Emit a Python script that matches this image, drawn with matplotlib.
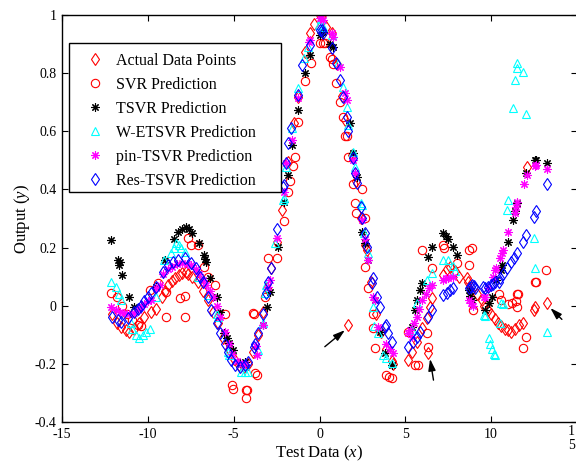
import matplotlib
matplotlib.use('Agg')
import matplotlib.pyplot as plt
from matplotlib.patches import Rectangle

plt.rcParams['font.family'] = 'serif'
plt.rcParams['font.serif'] = ['Liberation Serif', 'DejaVu Serif']
plt.rcParams['mathtext.fontset'] = 'custom'
plt.rcParams['mathtext.rm'] = 'Liberation Serif'
plt.rcParams['mathtext.it'] = 'Liberation Serif:italic'

# Actual test data (red diamonds)
act_x = [-12.1, -11.8, -11.56, -11.3, -11.07, -10.8, -10.5, -10.2, -9.8, -9.5, -9.2, -9.0, -8.8,
         -8.6, -8.4, -8.2, -8.0, -7.8, -7.66, -7.4, -7.1, -6.8, -6.5, -6.2, -5.9, -5.6, -5.3, -5.0,
         -4.7, -4.4, -4.15, -3.9, -3.6, -3.3, -3.05, -2.8, -2.5, -2.2, -1.83, -1.5, -1.28, -0.86,
         -0.57, -0.3, 0.05, 0.15, 0.4, 0.7, 1.0, 1.3, 1.5, 1.68, 1.9, 2.1, 2.4, 2.64, 2.74, 3.0,
         3.3, 3.6, 3.9, 4.2, 4.3, 5.18, 5.37, 5.66, 5.95, 6.25, 6.34, 6.45, 6.54, 7.22, 7.4, 7.6,
         7.87, 8.1, 8.58, 8.67, 8.8, 9.2, 9.46, 9.6, 9.8, 10.0, 10.2, 10.4, 10.6, 10.8, 11.0,
         11.15, 11.4, 11.6, 11.85, 12.08, 12.47, 12.57, 13.25]
act_y = [-0.03, -0.06, -0.072, -0.085, -0.089, -0.08, -0.06, -0.04, -0.02, -0.012, 0.03, 0.05, 0.07,
         0.085, 0.095, 0.105, 0.112, 0.115, 0.11, 0.1, 0.08, 0.05, 0.02, -0.02, -0.06, -0.11, -0.15,
         -0.185, -0.205, -0.21, -0.2, -0.16, -0.1, -0.02, 0.06, 0.13, 0.22, 0.33, 0.495, 0.63, 0.719,
         0.874, 0.937, 0.97, 1.0, 1.0, 0.96, 0.937, 0.83, 0.72, 0.64, -0.066, 0.52, 0.43, 0.3, 0.21,
         0.19, 0.08, -0.03, -0.09, -0.15, -0.19, -0.2, -0.187, -0.158, -0.124, -0.078, -0.043,
         -0.164, -0.006, 0.026, 0.106, 0.125, 0.134, 0.12, 0.1, 0.094, 0.08, 0.05, 0.04, 0.02, 0.0,
         -0.015, -0.03, -0.045, -0.06, -0.07, -0.08, -0.085, -0.09, -0.08, -0.065, -0.06, 0.478,
         -0.015, -0.003, 0.01]

# SVR prediction (red circles)
svr_x = [-12.14, -11.8, -11.5, -11.2, -10.9, -10.6, -10.4, -9.9, -9.42, -8.93, -8.93, -8.15, -7.86,
         -7.86, -7.66, -7.47, -7.08, -6.7, -6.5, -6.11, -5.5, -5.1, -5.05, -4.3, -4.2, -4.3, -3.87,
         -3.81, -3.75, -3.65, -3.2, -3.0, -2.45, -2.06, -1.83, -1.73, -1.53, -1.44, -1.24, -0.82,
         -0.47, 0.0, 0.2, 0.31, 0.6, 0.7, 0.8, 0.99, 1.19, 1.38, 1.5, 1.6, 1.68, 1.97, 2.06, 2.12,
         2.45, 2.64, 2.64, 2.8, 3.13, 3.13, 3.23, 3.9, 4.05, 4.2, 5.18, 5.56, 5.72, 5.95, 6.25, 6.3,
         6.54, 7.22, 7.25, 8.0, 8.68, 8.87, 8.68, 8.97, 10.45, 10.6, 11.0, 11.2, 11.45, 11.48, 11.5,
         11.57, 12.04, 11.85, 12.53, 12.63, 13.21]
svr_y = [0.043, 0.03, 0.0, -0.03, -0.05, -0.065, -0.07, 0.054, 0.077, 0.048, -0.038, 0.025, 0.033,
         -0.038, 0.232, 0.21, 0.21, 0.134, 0.1, 0.071, -0.03, -0.273, -0.285, -0.29, -0.29, -0.318,
         -0.026, -0.03, -0.23, -0.24, 0.031, 0.163, 0.163, 0.292, 0.392, 0.43, 0.48, 0.51, 0.633,
         0.774, 0.834, 0.903, 0.903, 0.903, 0.857, 0.85, 0.83, 0.765, 0.702, 0.65, 0.583, 0.583,
         0.513, 0.42, 0.352, 0.318, 0.4, 0.3, 0.134, 0.06, -0.03, -0.077, -0.147, -0.24, -0.245,
         -0.25, -0.09, -0.204, -0.204, 0.19, -0.095, -0.141, 0.129, 0.21, 0.2, 0.146, 0.19, 0.2,
         0.14, -0.015, 0.04, 0.02, 0.005, 0.01, 0.015, 0.04, -0.005, 0.04, -0.107, -0.147, 0.08,
         0.083, 0.123]

# TSVR prediction (black asterisks)
tsvr_x = [-12.14, -11.75, -11.7, -11.65, -11.5, -11.1, -10.8, -9.5, -9.0, -8.5, -8.25, -8.0, -7.8,
          -7.6, -7.4, -7.0, -6.75, -6.65, -6.6, -6.4, -6.0, -5.8, -5.55, -5.4, -5.25, -5.04,
          -4.65, -4.36, -3.29, -3.04, -2.9, -2.41, -2.06, -1.85, -1.6, -1.24, -0.82, -0.57, 0.0,
          0.2, 0.6, 0.8, 1.77, 1.97, 2.16, 2.45, 2.64, 2.84, 3.23, 3.52, 3.81, 4.2, 5.37, 5.56,
          5.66, 5.86, 5.95, 6.34, 6.54, 7.2, 7.35, 7.5, 7.8, 8.0, 8.68, 8.78, 8.87, 9.65, 9.85,
          10.05, 10.29, 10.58, 10.62, 11.0, 11.27, 11.4, 11.52, 12.04, 12.53, 12.63, 13.25]
tsvr_y = [0.226, 0.157, 0.14, 0.15, 0.105, 0.03, -0.003, 0.065, 0.157, 0.23, 0.255, 0.265, 0.27,
          0.265, 0.25, 0.215, 0.175, 0.16, 0.15, 0.095, 0.03, -0.02, -0.095, -0.11, -0.128,
          -0.152, -0.198, -0.193, -0.066, -0.003, 0.048, 0.203, 0.358, 0.45, 0.553, 0.673, 0.8,
          0.862, 0.93, 0.94, 0.9, 0.89, 0.627, 0.524, 0.444, 0.255, 0.215, 0.157, 0.02, -0.089,
          -0.164, -0.204, -0.072, -0.015, 0.02, 0.054, 0.077, 0.169, 0.203, 0.25, 0.24, 0.23,
          0.203, 0.174, 0.054, 0.035, 0.02, -0.015, 0.01, 0.03, 0.088, 0.123, 0.14, 0.22, 0.295,
          0.325, 0.353, 0.455, 0.5, 0.5, 0.49]

# W-ETSVR prediction (cyan triangles)
wet_x = [-12.14, -11.85, -11.7, -11.55, -11.0, -10.9, -10.7, -10.5, -10.3, -10.1, -9.9, -9.5,
         -9.03, -8.64, -8.5, -8.35, -8.2, -8.06, -7.86, -7.08, -6.5, -6.0, -5.9, -5.35, -5.25,
         -4.55, -4.35, -4.15, -3.58, -3.29, -3.19, -3.1, -2.6, -2.12, -2.06, -1.93, -1.63, -1.28,
         -0.9, -0.66, -0.04, 0.1, 0.2, 0.7, 1.09, 1.38, 1.58, 1.68, 1.97, 2.06, 2.41, 2.45, 2.6,
         2.84, 3.13, 3.2, 3.43, 3.72, 3.9, 4.2, 5.37, 5.66, 6.25, 6.54, 7.22, 7.5, 7.8, 7.9,
         9.6, 9.65, 9.9, 9.94, 10.05, 10.15, 10.2, 10.49, 10.6, 10.7, 10.9, 10.98, 11.27, 11.4,
         11.5, 11.52, 11.85, 12.04, 12.47, 12.57, 13.25]
wet_y = [0.083, 0.065, 0.04, 0.02, -0.06, -0.08, -0.1, -0.11, -0.1, -0.09, -0.08, 0.03, 0.157,
         0.18, 0.2, 0.215, 0.21, 0.2, 0.186, 0.1, 0.037, -0.03, -0.04, -0.16, -0.17, -0.227,
         -0.227, -0.227, -0.152, -0.06, 0.043, 0.07, 0.215, 0.364, 0.37, 0.478, 0.61, 0.748,
         0.851, 0.89, 0.966, 0.985, 0.96, 0.93, 0.834, 0.753, 0.685, 0.622, 0.53, 0.478, 0.352,
         0.346, 0.25, 0.18, -0.003, -0.07, -0.095, -0.17, -0.18, -0.198, -0.083, 0.01, 0.088,
         0.111, 0.157, 0.157, 0.136, 0.12, -0.032, -0.035, -0.11, -0.13, -0.15, -0.165, -0.17,
         -0.06, 0.008, 0.005, 0.33, 0.364, 0.681, 0.776, 0.834, 0.817, 0.805, 0.658, 0.232,
         0.129, -0.09]

# pin-TSVR prediction (magenta asterisks)
pin_x = [-12.14, -11.85, -11.6, -11.37, -11.1, -10.8, -10.6, -10.4, -10.2, -10.0, -9.8, -9.5,
         -9.3, -9.1, -8.8, -8.6, -8.3, -8.0, -7.7, -7.5, -7.2, -7.0, -6.8, -6.6, -6.4, -6.2,
         -6.0, -5.8, -5.5, -5.3, -5.1, -4.8, -4.5, -4.36, -3.7, -3.65, -3.29, -3.0, -2.9, -2.45,
         -2.06, -1.93, -1.63, -1.24, -0.62, -0.57, 0.0, 0.1, 0.2, 0.7, 0.8, 1.19, 1.48, 1.58,
         1.97, 2.06, 2.45, 2.64, 2.84, 3.13, 3.23, 3.43, 3.9, 4.1, 4.3, 5.18, 5.3, 5.37, 5.5,
         5.66, 5.8, 5.95, 6.2, 6.4, 6.54, 7.22, 7.35, 7.5, 7.8, 8.68, 8.8, 8.97, 9.6, 9.65, 9.8,
         10.1, 10.2, 10.3, 10.52, 10.62, 10.68, 10.98, 11.37, 11.45, 11.52, 11.9, 12.1, 12.57,
         12.63, 13.25]
pin_y = [-0.003, -0.015, -0.022, -0.026, -0.03, -0.025, -0.015, -0.005, 0.005, 0.015, 0.02, 0.06,
         0.07, 0.11, 0.125, 0.134, 0.142, 0.148, 0.145, 0.14, 0.125, 0.11, 0.09, 0.07, 0.05,
         0.03, 0.0, -0.04, -0.09, -0.13, -0.165, -0.19, -0.2, -0.2, -0.14, -0.17, -0.066, 0.065,
         0.088, 0.232, 0.392, 0.49, 0.57, 0.713, 0.908, 0.914, 0.99, 0.99, 0.983, 0.937, 0.925,
         0.822, 0.73, 0.708, 0.5, 0.455, 0.295, 0.23, 0.157, 0.03, 0.02, -0.072, -0.13, -0.15,
         -0.163, -0.095, -0.083, -0.106, -0.06, -0.038, -0.01, 0.02, 0.04, 0.06, 0.07, 0.088,
         0.095, 0.095, 0.1, 0.02, 0.01, 0.0, 0.03, 0.03, 0.06, 0.1, 0.123, 0.13, 0.164, 0.18,
         0.19, 0.255, 0.318, 0.34, 0.358, 0.419, 0.45, 0.48, 0.484, 0.469]

# Res-TSVR prediction (blue diamonds)
res_x = [-12.1, -11.75, -11.56, -11.17, -10.8, -10.6, -10.4, -10.2, -10.0, -9.8, -9.5, -9.12,
         -8.83, -8.54, -8.25, -7.86, -7.47, -7.18, -6.99, -6.79, -6.5, -6.3, -6.0, -5.82, -5.53,
         -5.33, -5.14, -4.94, -4.65, -4.36, -4.16, -3.81, -3.75, -3.58, -3.29, -3.1, -3.0, -2.84,
         -2.45, -2.12, -2.06, -1.93, -1.83, -1.67, -1.28, -1.01, -0.57, 0.02, 0.12, 0.2, 0.7,
         0.99, 1.19, 1.38, 1.58, 1.68, 1.97, 2.06, 2.16, 2.41, 2.5, 2.64, 2.74, 3.04, 3.13, 3.33,
         3.52, 3.81, 3.9, 4.0, 4.2, 5.18, 5.47, 5.66, 5.86, 6.34, 6.54, 7.22, 7.4, 7.6, 7.8,
         8.68, 8.8, 8.9, 9.0, 9.07, 9.52, 9.65, 9.8, 10.0, 10.1, 10.2, 10.43, 10.49, 10.7,
         10.95, 11.15, 11.35, 11.52, 11.85, 12.04, 12.5, 12.63, 13.25]
res_y = [-0.038, -0.05, -0.055, -0.043, -0.02, -0.01, 0.0, 0.015, 0.03, 0.045, 0.065, 0.117,
         0.14, 0.151, 0.157, 0.163, 0.146, 0.129, 0.1, 0.083, 0.031, -0.015, -0.06, -0.095,
         -0.13, -0.158, -0.187, -0.204, -0.21, -0.204, -0.193, -0.141, -0.13, -0.095, -0.03,
         0.043, 0.083, 0.129, 0.263, 0.41, 0.415, 0.49, 0.559, 0.61, 0.725, 0.828, 0.897, 0.95,
         0.95, 0.937, 0.885, 0.834, 0.776, 0.719, 0.65, 0.6, 0.508, 0.455, 0.421, 0.34, 0.3, 0.25,
         0.203, 0.077, 0.094, 0.03, -0.003, -0.072, -0.066, -0.095, -0.124, -0.141, -0.124,
         -0.106, -0.089, -0.038, -0.015, 0.037, 0.045, 0.055, 0.06, 0.06, 0.065, 0.07, 0.068,
         0.06, 0.065, 0.06, 0.065, 0.07, 0.075, 0.083, 0.083, 0.094, 0.11, 0.13, 0.15, 0.165,
         0.18, 0.22, 0.243, 0.306, 0.327, 0.419]

# Outliers pointed out with arrows: (tip, tail)
arrow_tips = [(1.48, -0.084), (6.44, -0.183), (13.45, -0.008)]
arrow_tails = [(0.31, -0.141), (6.64, -0.256), (14.12, -0.047)]

x_ticks = [-15, -10, -5, 0, 5, 10]
x_ticklabels = ['-15', '-10', '-5', '0', '5', '10']
y_ticks = [-0.4, -0.2, 0, 0.2, 0.4, 0.6, 0.8, 1]
y_ticklabels = ['-0.4', '-0.2', '0', '0.2', '0.4', '0.6', '0.8', '1']

fig = plt.figure(figsize=(5.76, 4.65), dpi=100)
ax = fig.add_axes([62 / 576, 43 / 465, 515 / 576, 407 / 465])

mk = dict(linestyle='none', markerfacecolor='none', markeredgewidth=0.8)
ax.plot(act_x, act_y, marker='d', color='#ff0000', markersize=6.5, label='Actual Data Points', **mk)
ax.plot(svr_x, svr_y, marker='o', color='#ff0000', markersize=6, label='SVR Prediction', **mk)
ax.plot(tsvr_x, tsvr_y, marker=(8, 2, 0), color='black', markersize=6, label='TSVR Prediction', **mk)
ax.plot(wet_x, wet_y, marker='^', color='#00ffff', markersize=6, label='W-ETSVR Prediction', **mk)
ax.plot(pin_x, pin_y, marker=(8, 2, 0), color='#ff00ff', markersize=6, label='pin-TSVR Prediction', **mk)
ax.plot(res_x, res_y, marker='d', color='#0000ff', markersize=6.5, label='Res-TSVR Prediction', **mk)

for tip, tail in zip(arrow_tips, arrow_tails):
    ax.annotate('', xy=tip, xytext=tail,
                arrowprops=dict(arrowstyle='-|>,head_length=0.7,head_width=0.22',
                                color='black', lw=1.0, shrinkA=0, shrinkB=0))

ax.set_xlim(-15, 15)
ax.set_ylim(-0.4, 1)
ax.set_xticks(x_ticks + [15])
ax.set_xticklabels(x_ticklabels + [''])
ax.set_yticks(y_ticks)
ax.set_yticklabels(y_ticklabels)
ax.tick_params(direction='in', top=True, right=True, length=4, width=0.8,
               labelsize=10, pad=4)
for s in ax.spines.values():
    s.set_linewidth(1.0)

# the last x label sits at the right edge, stacked so it stays inside
fig.text(0.998, 1 - 425 / 465, '1\n5', ha='right', va='top', fontsize=10, linespacing=1.1)

ax.set_xlabel('Test Data ($x$)', fontsize=12, labelpad=2)
ax.set_ylabel('Output ($y$)', fontsize=12, labelpad=2)

# legend box drawn by hand so it keeps the wide right margin
ax.add_patch(Rectangle((7 / 515, 230 / 407), 212 / 515, 149 / 407, transform=ax.transAxes,
                       facecolor='white', edgecolor='black', linewidth=1.0, zorder=4))
leg = ax.legend(loc='upper left', bbox_to_anchor=(0.0136, 0.931), borderaxespad=0,
                fontsize=11.5, numpoints=1, handlelength=2.0, handletextpad=0.35,
                labelspacing=0.5, borderpad=0.6, frameon=False)
leg.set_zorder(5)

fig.savefig('out.png', dpi=100)
